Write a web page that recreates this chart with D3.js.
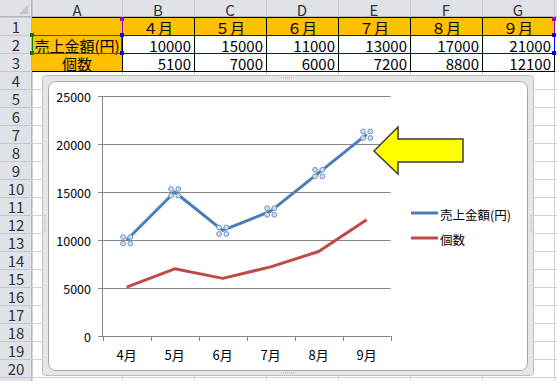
<!DOCTYPE html>
<html><head><meta charset="utf-8">
<script src="https://cdn.jsdelivr.net/npm/d3@7"></script>
<style>
html,body{margin:0;padding:0;background:#fff;}
svg{display:block;font-family:"Noto Sans CJK JP","DejaVu Sans",sans-serif;}
</style></head>
<body>
<svg id="c" width="557" height="381"></svg>
<script>
// ---- data ----
const sheetMonths = ["４月","５月","６月","７月","８月","９月"];
const chartMonths = ["4月","5月","6月","7月","8月","9月"];
const seriesNames = ["売上金額(円)","個数"];
const sales = [10000,15000,11000,13000,17000,21000];
const counts = [5100,7000,6000,7200,8800,12100];
const yTicks = [0,5000,10000,15000,20000,25000];
const colLetters = ["A","B","C","D","E","F","G"];

const svg = d3.select("#c");

// ---- spreadsheet ----
const colEdges = [32,122,194,266,338,410,482,554,626];
const rowH = 18, headH = 17;
const rowY = i => headH + i*rowH; // top of row i+1
const grid = svg.append("g");
for (let i=0;i<=21;i++) grid.append("line").attr("x1",32).attr("x2",557).attr("y1",rowY(i)+0.5).attr("y2",rowY(i)+0.5).attr("stroke","#d4d4d4");
colEdges.forEach(x=>grid.append("line").attr("x1",x+0.5).attr("x2",x+0.5).attr("y1",headH).attr("y2",381).attr("stroke","#d4d4d4"));
// headers
svg.append("rect").attr("x",0).attr("y",0).attr("width",557).attr("height",headH).attr("fill","#dfe3e8");
svg.append("rect").attr("x",0).attr("y",0).attr("width",32).attr("height",381).attr("fill","#dfe3e8");
svg.append("path").attr("d","M28,5 L28,14 L19,14 Z").attr("fill","#c2c6cb");
svg.append("line").attr("x1",0).attr("x2",557).attr("y1",headH-0.5).attr("y2",headH-0.5).attr("stroke","#b4b8bd");
svg.append("line").attr("x1",31.5).attr("x2",31.5).attr("y1",0).attr("y2",381).attr("stroke","#b4b8bd");
colEdges.forEach(x=>svg.append("line").attr("x1",x+0.5).attr("x2",x+0.5).attr("y1",0).attr("y2",headH).attr("stroke","#c4c8cd"));
for (let i=0;i<=21;i++) svg.append("line").attr("x1",0).attr("x2",32).attr("y1",rowY(i)+0.5).attr("y2",rowY(i)+0.5).attr("stroke","#c4c8cd");
colLetters.forEach((c,i)=>svg.append("text").attr("x",(colEdges[i]+colEdges[i+1])/2).attr("y",9).attr("dominant-baseline","central").attr("text-anchor","middle").attr("font-size",15).attr("fill","#333").text(c));
for (let i=0;i<20;i++) svg.append("text").attr("x",16).attr("y",rowY(i)+rowH/2+0.5).attr("dominant-baseline","central").attr("text-anchor","middle").attr("font-size",15).attr("fill","#333").text(i+1);

// table cells
svg.append("rect").attr("x",32).attr("y",rowY(0)).attr("width",554-32).attr("height",rowH).attr("fill","#ffc000");
svg.append("rect").attr("x",32).attr("y",rowY(1)).attr("width",90).attr("height",rowH*2).attr("fill","#ffc000");
svg.append("rect").attr("x",122).attr("y",rowY(1)).attr("width",554-122).attr("height",rowH*2).attr("fill","#fff");
const tb = svg.append("g").attr("stroke","#000").attr("stroke-width",1);
for (let i=0;i<=3;i++) tb.append("line").attr("x1",32).attr("x2",555).attr("y1",rowY(i)+0.5).attr("y2",rowY(i)+0.5);
colEdges.slice(1,8).forEach(x=>tb.append("line").attr("x1",x+0.5).attr("x2",x+0.5).attr("y1",rowY(0)).attr("y2",rowY(3)+1));
sheetMonths.forEach((m,i)=>svg.append("text").attr("x",(colEdges[i+1]+colEdges[i+2])/2).attr("y",rowY(0)+rowH/2+1).attr("dominant-baseline","central").attr("text-anchor","middle").attr("font-size",15).text(m));
seriesNames.forEach((n,r)=>svg.append("text").attr("x",77).attr("y",rowY(r+1)+rowH/2+1).attr("dominant-baseline","central").attr("text-anchor","middle").attr("font-size",15).text(n));
[sales,counts].forEach((arr,r)=>arr.forEach((v,i)=>svg.append("text").attr("x",colEdges[i+2]-3).attr("y",rowY(r+1)+rowH/2+1).attr("dominant-baseline","central").attr("text-anchor","end").attr("font-size",15).text(v)));
// range highlights
svg.append("rect").attr("x",32.5).attr("y",rowY(1)+0.5).attr("width",89).attr("height",rowH).attr("fill","none").attr("stroke","#008000");
svg.append("line").attr("x1",122).attr("x2",554).attr("y1",rowY(1)+0.5).attr("y2",rowY(1)+0.5).attr("stroke","#0000ff");
svg.append("line").attr("x1",122).attr("x2",554).attr("y1",rowY(2)+0.5).attr("y2",rowY(2)+0.5).attr("stroke","#0000ff");
svg.append("line").attr("x1",554.5).attr("x2",554.5).attr("y1",rowY(1)).attr("y2",rowY(2)).attr("stroke","#0000ff");
svg.append("line").attr("x1",122.5).attr("x2",122.5).attr("y1",rowY(0)).attr("y2",rowY(1)).attr("stroke","#9900cc");
svg.append("line").attr("x1",554.5).attr("x2",554.5).attr("y1",rowY(0)).attr("y2",rowY(1)).attr("stroke","#9900cc");
[[30,33,"#008000"],[30,51,"#008000"],[120,33,"#0000ff"],[120,51,"#0000ff"],[552,33,"#0000ff"],[552,51,"#0000ff"],[120,17,"#9900cc"],[552,17,"#9900cc"]]
 .forEach(([x,y,c])=>svg.append("rect").attr("x",x).attr("y",y).attr("width",4).attr("height",4).attr("fill",c));

// ---- chart frame ----
svg.append("rect").attr("x",42.5).attr("y",75.5).attr("width",491).attr("height",300).attr("rx",3).attr("fill","#e6e6e6").attr("stroke","#c0c0c0");
svg.append("rect").attr("x",48.5).attr("y",81.5).attr("width",479).attr("height",289).attr("rx",7).attr("fill","#fff").attr("stroke","#a6a6a6");
svg.append("line").attr("x1",45).attr("x2",45).attr("y1",215).attr("y2",232).attr("stroke","#b0b0b0").attr("stroke-dasharray","1,1");
svg.append("line").attr("x1",281).attr("x2",294).attr("y1",78).attr("y2",78).attr("stroke","#b0b0b0").attr("stroke-dasharray","1,1");
svg.append("line").attr("x1",281).attr("x2",294).attr("y1",373).attr("y2",373).attr("stroke","#b0b0b0").attr("stroke-dasharray","1,1");
svg.append("line").attr("x1",531).attr("x2",531).attr("y1",215).attr("y2",232).attr("stroke","#b0b0b0").attr("stroke-dasharray","1,1");

// ---- chart ----
const x = d3.scaleBand().domain(chartMonths).range([102.7,390.7]);
const y = d3.scaleLinear().domain([0,25000]).range([336,96]);
const cx = d => x(d)+x.bandwidth()/2;

const gridG = svg.append("g");
yTicks.forEach(t=>gridG.append("line").attr("x1",98).attr("x2",390.7).attr("y1",Math.round(y(t))+0.5).attr("y2",Math.round(y(t))+0.5).attr("stroke","#868686"));
gridG.append("line").attr("x1",102.5).attr("x2",102.5).attr("y1",96).attr("y2",336).attr("stroke","#868686");
const xt = [...chartMonths.map(m=>x(m)), 390.7];
xt.forEach(v=>gridG.append("line").attr("x1",Math.round(v)+0.5).attr("x2",Math.round(v)+0.5).attr("y1",336).attr("y2",341).attr("stroke","#868686"));

yTicks.forEach(t=>svg.append("text").attr("x",91).attr("y",y(t)).attr("dominant-baseline","central").attr("text-anchor","end").attr("font-size",12.5).text(t));
chartMonths.forEach(m=>svg.append("text").attr("x",cx(m)).attr("y",354).attr("dominant-baseline","central").attr("text-anchor","middle").attr("font-size",13).text(m));

const line = d3.line().x((d,i)=>cx(chartMonths[i])).y(d=>y(d));
svg.append("path").datum(counts).attr("d",line).attr("fill","none").attr("stroke","#be4b48").attr("stroke-width",3).attr("stroke-linejoin","round");
svg.append("path").datum(sales).attr("d",line).attr("fill","none").attr("stroke","#4a7ebb").attr("stroke-width",3).attr("stroke-linejoin","round");
// selection handles on blue points
sales.forEach((v,i)=>{
  const px = cx(chartMonths[i]), py = y(v);
  [[-3.6,-3],[3.6,-3],[-3.6,3.6],[3.6,3.6]].forEach(([dx,dy])=>
    svg.append("circle").attr("cx",px+dx).attr("cy",py+dy).attr("r",2.4).attr("fill","#cfe0f0").attr("stroke","#6f95bb").attr("stroke-width",1));
});

// legend
const legY = [213, 238];
const legColors = ["#4a7ebb","#be4b48"];
seriesNames.forEach((n,i)=>{
  svg.append("line").attr("x1",411).attr("x2",438).attr("y1",legY[i]).attr("y2",legY[i]).attr("stroke",legColors[i]).attr("stroke-width",3);
  svg.append("text").attr("x",440).attr("y",legY[i]+1).attr("dominant-baseline","central").attr("font-size",12.5).text(n);
});

// arrow annotation
svg.append("path").attr("d","M374,151 L398,127 L398,139 L463,139 L463,162 L398,162 L398,174 Z").attr("fill","#ffff00").attr("stroke","#3c3c3c").attr("stroke-width",1.5).attr("stroke-linejoin","miter");
</script>
</body></html>
